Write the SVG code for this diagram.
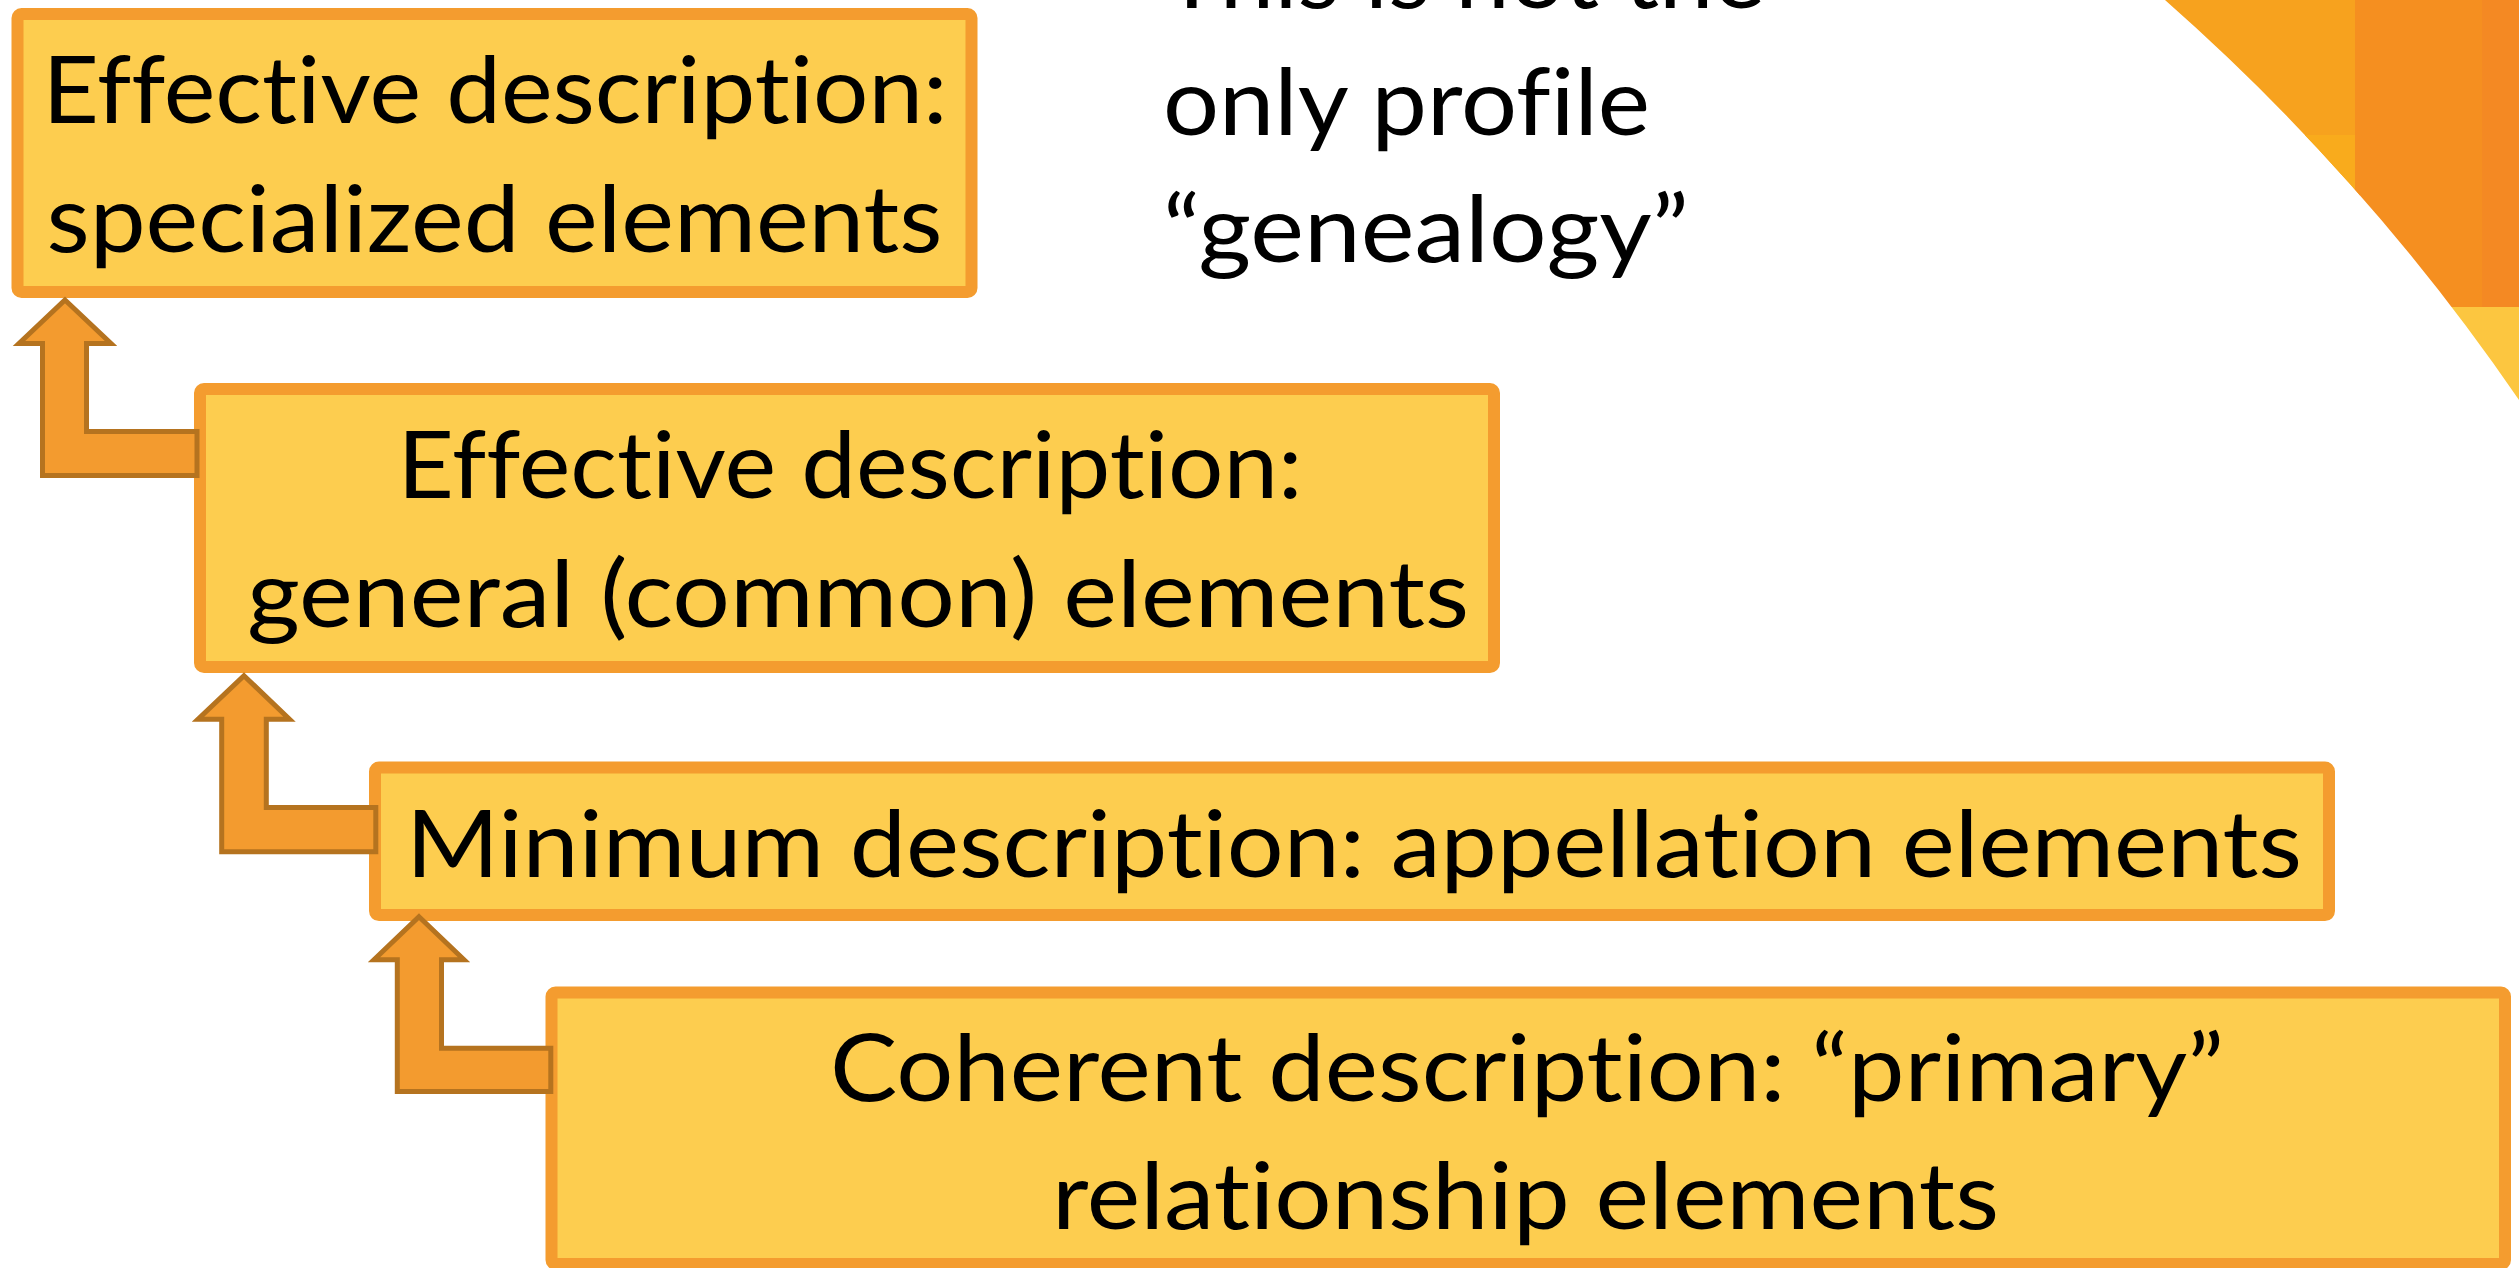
<svg xmlns="http://www.w3.org/2000/svg" width="2519" height="1268" viewBox="0 0 2519 1268">
  <style>
    .box { fill: #FDCD4F; stroke: #F49C2F; stroke-width: 12; }
    .arrow { fill: #F39B2F; stroke: #B5731F; stroke-width: 5; stroke-linejoin: miter; }
    .t { font-family: Lato, "Liberation Sans", sans-serif; font-size: 94px; fill: #000000; font-variant-ligatures: none; font-feature-settings: "liga" 0, "clig" 0; }
    .c { text-anchor: middle; }
  </style>
  <defs>
    <clipPath id="decoClip">
      <path d="M2165,0 L2519,0 L2519,400 Q2367,178 2165,0 Z"/>
    </clipPath>
  </defs>
  <rect width="2519" height="1268" fill="#FFFFFF"/>
  <g id="decoration" clip-path="url(#decoClip)">
    <rect x="2160" y="0" width="200" height="410" fill="#F7A21E"/>
    <rect x="2160" y="135" width="195" height="275" fill="#F9AB1C"/>
    <rect x="2355" y="0" width="127" height="307" fill="#F58F20"/>
    <rect x="2482" y="0" width="37" height="307" fill="#F48923"/>
    <rect x="2355" y="307" width="164" height="103" fill="#FCC640"/>
  </g>
  <g id="note">
    <text class="t" x="1163" y="8" textLength="602" lengthAdjust="spacingAndGlyphs">This is not the</text>
    <text class="t" x="1163" y="135" textLength="487" lengthAdjust="spacingAndGlyphs">only profile</text>
    <text class="t" x="1163" y="262" textLength="526" lengthAdjust="spacingAndGlyphs">“genealogy”</text>
  </g>
  <g id="node-specialized">
    <rect class="box" x="17.5" y="14" width="954" height="278" rx="4"/>
    <text class="t c" x="495" y="123.3" textLength="905" lengthAdjust="spacingAndGlyphs">Effective description:</text>
    <text class="t c" x="494.5" y="251.7" textLength="896" lengthAdjust="spacingAndGlyphs">specialized elements</text>
  </g>
  <g id="node-general">
    <rect class="box" x="200" y="389" width="1294" height="278" rx="4"/>
    <text class="t c" x="850" y="498" textLength="905" lengthAdjust="spacingAndGlyphs">Effective description:</text>
    <text class="t c" x="858" y="627" textLength="1222" lengthAdjust="spacingAndGlyphs">general (common) elements</text>
  </g>
  <g id="node-minimum">
    <rect class="box" x="375" y="767.6" width="1954" height="147.5" rx="4"/>
    <text class="t c" x="1354" y="876.7" textLength="1896" lengthAdjust="spacingAndGlyphs">Minimum description: appellation elements</text>
  </g>
  <g id="node-coherent">
    <rect class="box" x="551.5" y="992.5" width="1953.5" height="271.5" rx="4"/>
    <text class="t c" x="1527" y="1101" textLength="1394" lengthAdjust="spacingAndGlyphs">Coherent description: “primary”</text>
    <text class="t c" x="1525.5" y="1229" textLength="947" lengthAdjust="spacingAndGlyphs">relationship elements</text>
  </g>
  <g id="connectors">
    <path class="arrow" d="M65,300 L111,343.5 L86.5,343.5 L86.5,431.5 L197,431.5 L197,475.5 L42.5,475.5 L42.5,343.5 L19,343.5 Z"/>
    <path class="arrow" d="M244,675.7 L289.5,719.3 L266.3,719.3 L266.3,807.5 L375.8,807.5 L375.8,851.7 L221.7,851.7 L221.7,719.3 L198,719.3 Z"/>
    <path class="arrow" d="M419,916.7 L464,959.8 L441.5,959.8 L441.5,1048.2 L550.8,1048.2 L550.8,1091.5 L397.3,1091.5 L397.3,959.8 L374,959.8 Z"/>
  </g>
</svg>
